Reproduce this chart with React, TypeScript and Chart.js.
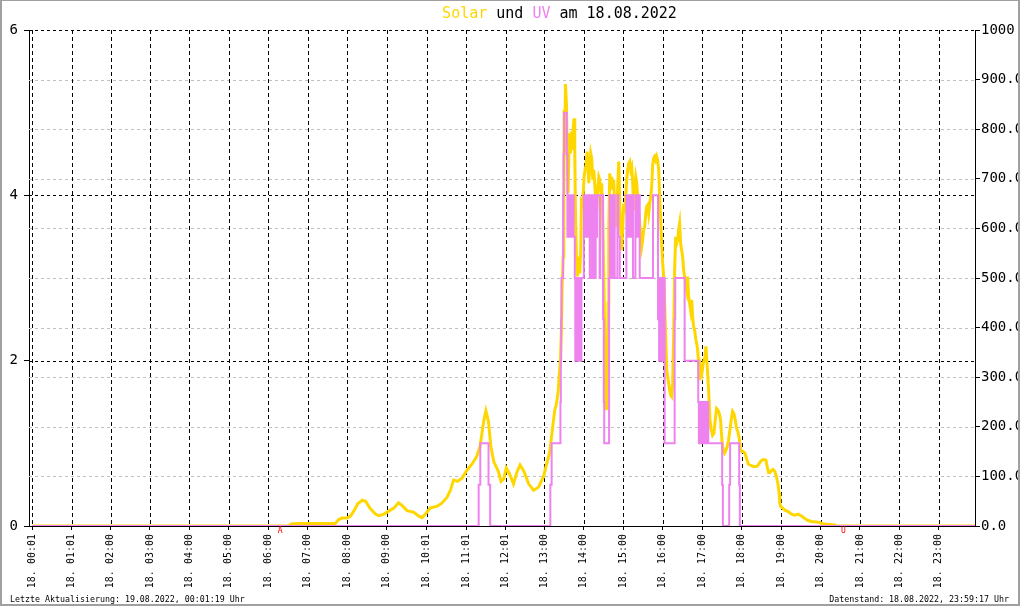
import React, { useEffect, useRef } from "react";
import { Chart, registerables } from "chart.js";

Chart.register(...registerables);

// ---- Axis ticks ----
const xTickMinutes = [1, 61, 120, 180, 240, 300, 360, 420, 480, 540, 601, 661, 721, 780, 840, 900, 960, 1020, 1080, 1140, 1200, 1260, 1320, 1380];
const xTickLabels = [
  "18. 00:01", "18. 01:01", "18. 02:00", "18. 03:00", "18. 04:00", "18. 05:00",
  "18. 06:00", "18. 07:00", "18. 08:00", "18. 09:00", "18. 10:01", "18. 11:01",
  "18. 12:01", "18. 13:00", "18. 14:00", "18. 15:00", "18. 16:00", "18. 17:00",
  "18. 18:00", "18. 19:00", "18. 20:00", "18. 21:00", "18. 22:00", "18. 23:00",
];
const uvAxisTicks = [0, 2, 4, 6];
const solarAxisTicks = [0, 100, 200, 300, 400, 500, 600, 700, 800, 900, 1000];

// ---- Solar (W/m²), minutes since midnight ----
const solarMinutes = [
  1, 391, 395, 404, 462, 467, 472, 480, 485, 490, 496, 503, 508, 515, 523, 528, 536, 543, 551, 558,
  563, 571, 581, 589, 594, 599, 606, 617, 624, 632, 637, 642, 648, 655, 662, 670, 677, 682, 687.5, 691,
  695, 698.5, 703, 710, 714, 718, 722, 727, 733, 738, 743, 749, 756, 763.5, 771, 778.7, 783.7, 785.7, 788.2, 790.8,
  793.3, 795.8, 798.4, 800.9, 802.4, 804.4, 806, 807, 808.5, 809.5, 810, 811, 812, 813.6, 814.6, 816.1, 817.6, 818.6, 819.6, 821.1,
  822.7, 823.7, 825.2, 826.2, 827.2, 828.7, 830.3, 832.3, 833.8, 835.3, 836.3, 837.9, 839.4, 840.4, 841.9, 843.4, 845, 846.5, 847.5, 849,
  850.5, 852, 853.6, 855.1, 856.6, 858.1, 859.6, 861.2, 862.7, 864.2, 865.7, 867.2, 868.7, 870.3, 871.8, 873.3, 874.8, 875.8, 876.9, 877.9,
  879.4, 880.9, 882.4, 883.9, 885.5, 887, 888.5, 890, 891.5, 893.1, 894.6, 896.1, 897.6, 899.1, 900.7, 902.2, 903.7, 905.2, 906.7, 908.2,
  909.8, 911.3, 912.8, 914.3, 915.8, 917.4, 918.9, 920.4, 921.9, 923.4, 925, 926.5, 928, 929.5, 931, 932.6, 934.1, 935.6, 937.1, 938.6,
  940.2, 941.7, 943.2, 944.7, 946.2, 947.7, 949.3, 950.8, 952.3, 953.8, 955.3, 956.9, 958.4, 959.9, 961.4, 962.9, 964.5, 966, 967.5, 969,
  970.5, 972.1, 973.6, 975.1, 976.6, 978.1, 979.6, 981.2, 982.7, 984.2, 985.7, 987.2, 988.8, 990.3, 991.8, 993.3, 994.8, 996.4, 997.9, 999.4,
  1000.9, 1002.4, 1004, 1005.5, 1007, 1008.5, 1010.5, 1012.5, 1014.1, 1015.6, 1017.6, 1019.6, 1021.7, 1024.2, 1025.7, 1027.7, 1029.8, 1031.8, 1033.8, 1035.8,
  1037.9, 1039.9, 1041.9, 1043.9, 1046, 1048, 1050, 1052, 1054.1, 1056.1, 1058.1, 1060.1, 1062.2, 1064.2, 1066.2, 1068.2, 1070.3, 1072.3, 1074.3, 1076.3,
  1078.4, 1080.4, 1082.4, 1085, 1087.5, 1090, 1092.6, 1097.6, 1102.7, 1105.2, 1107.7, 1110.3, 1112.8, 1116.9, 1118.9, 1120.9, 1122.9, 1125.5, 1128, 1130.5,
  1133.1, 1135.1, 1137.1, 1138.1, 1139.1, 1142.2, 1145.7, 1150.8, 1155.9, 1160.9, 1166, 1171, 1176.1, 1181.2, 1186.2, 1193.8, 1198.9, 1204, 1214.1, 1221.7,
  1224.2, 1435,
];
const solarValues = [
  0, 0, 4, 5, 5, 13, 16, 16, 20, 30, 45, 52, 50, 35, 24, 21, 24, 30, 36, 47,
  42, 31, 28, 20, 17, 24, 36, 40, 46, 58, 72, 93, 90, 97, 112, 125, 140, 160, 210, 232,
  210, 160, 130, 110, 90, 95, 117, 105, 85, 108, 123, 110, 85, 72, 78, 100, 127, 136, 150, 180,
  207, 234, 247, 271, 301, 335, 402, 483, 543, 590, 839, 751, 891, 849, 758, 671, 775, 792, 751, 795,
  758, 802, 822, 755, 637, 543, 503, 543, 509, 556, 654, 650, 677, 704, 718, 728, 755, 718, 691, 724,
  751, 741, 698, 718, 688, 657, 630, 681, 704, 698, 677, 691, 617, 516, 382, 247, 234, 281, 449, 597,
  711, 684, 704, 677, 698, 637, 603, 637, 684, 735, 650, 597, 556, 603, 650, 630, 664, 698, 718, 731,
  735, 718, 724, 691, 637, 684, 704, 691, 664, 637, 610, 583, 563, 577, 597, 603, 630, 644, 647, 630,
  650, 664, 684, 728, 741, 745, 738, 745, 738, 718, 664, 617, 570, 530, 503, 449, 382, 315, 301, 288,
  274, 264, 261, 288, 382, 516, 583, 570, 577, 597, 610, 570, 556, 543, 516, 503, 489, 476, 503, 462,
  449, 435, 456, 422, 402, 395, 375, 362, 338, 294, 321, 308, 328, 341, 362, 321, 274, 214, 194, 183,
  187, 214, 237, 234, 227, 214, 173, 153, 147, 153, 160, 173, 194, 214, 231, 227, 214, 197, 190, 177,
  153, 150, 150, 147, 136, 125, 123, 120, 120, 123, 128, 132, 134, 133, 120, 108, 108, 112, 114, 110,
  99, 86, 66, 46, 40, 36, 32, 29, 24, 22, 24, 20, 15, 11, 9, 8, 7, 4, 3, 2,
  0, 0,
];

// ---- UV index, change points (minutes since midnight) ----
const uvMinutes = [
  1, 680, 682.5, 695, 697.5, 789, 791, 804.4, 805, 805.5, 806, 808.5, 809.2, 810, 814, 815, 816, 817, 818, 819,
  820, 821, 822, 824.5, 826.2, 827, 828, 829, 830, 831, 832, 833, 834, 835, 836.3, 840, 841, 842, 843, 844,
  845, 846, 847, 848, 849, 850.5, 851.5, 852.5, 853.6, 854.5, 855.5, 856.5, 857.1, 858, 859, 860, 864, 865, 869.3, 870.3,
  871, 878.4, 879.4, 880.5, 881.5, 882.5, 883.5, 884.5, 885.5, 887, 891, 892.5, 894.6, 904.7, 906, 907, 908.5, 909.5, 911, 912,
  914.8, 918.4, 919.5, 920.5, 922, 923, 925, 945.2, 952.8, 953.5, 954.5, 955.5, 956.5, 957.5, 958.5, 959.5, 960.5, 961.5, 962.9, 978.1,
  979, 993.3, 1014, 1015, 1016, 1017, 1018, 1019, 1020, 1021, 1022, 1023, 1024, 1025, 1026, 1027, 1028, 1029.2, 1050.4, 1051.5,
  1061.1, 1062.5, 1076.3, 1077.3, 1435,
];
const uvValues = [
  0, 0.5, 1, 0.5, 0, 0.5, 1, 1.5, 2, 2.5, 3, 4, 4.5, 5, 4.5, 3.5, 4, 3.5, 4, 3.5,
  4, 3.5, 4, 3.5, 3, 2, 3, 2, 3, 2, 3, 2, 3, 2, 3, 4, 3.5, 4, 3.5, 4,
  3.5, 4, 3.5, 4, 3, 4, 3.5, 4, 3, 4, 3.5, 4, 3, 4, 3.5, 4, 3, 4, 2.5, 1.5,
  1, 3, 4, 3, 4, 3, 4, 3, 4, 3, 4, 3.5, 3, 4, 3.5, 4, 3.5, 4, 3.5, 4,
  3, 4, 3.5, 4, 3.5, 4, 3, 4, 2.5, 3, 2, 3, 2, 3, 2, 3, 2, 3, 1, 2.5,
  3, 2, 1.5, 1, 1.5, 1, 1.5, 1, 1.5, 1, 1.5, 1, 1.5, 1, 1.5, 1, 1.5, 1, 0.5, 0,
  0.5, 1, 0.5, 0, 0,
];

// ---- Sunrise / sunset markers ----
const sunMarkerMinutes = [378, 1235];
const sunMarkerLabels = ["A", "U"];

// ---- Texts ----
const titleParts = ["Solar", " und ", "UV", " am 18.08.2022"];
const titleColors = ["#FFD700", "#000000", "#EE82EE", "#000000"];
const footerLeft = "Letzte Aktualisierung: 19.08.2022, 00:01:19 Uhr";
const footerRight = "Datenstand: 18.08.2022, 23:59:17 Uhr";

const MONO = "'DejaVu Sans Mono', monospace";

const gridPlugin = {
  id: "customGrid",
  beforeDatasetsDraw(chart: any) {
    const { ctx, chartArea: a, scales } = chart;
    ctx.save();
    ctx.lineWidth = 1;
    // gray dashed for solar axis
    ctx.strokeStyle = "#c0c0c0";
    ctx.setLineDash([3, 3]);
    for (const v of solarAxisTicks) {
      if (v === 0 || v === 1000) continue;
      const y = Math.round(scales.y2.getPixelForValue(v)) + 0.5;
      ctx.beginPath();
      ctx.moveTo(a.left, y);
      ctx.lineTo(a.right, y);
      ctx.stroke();
    }
    // vertical black dashed
    ctx.strokeStyle = "#000";
    ctx.setLineDash([4, 3]);
    for (const m of xTickMinutes) {
      const x = Math.round(scales.x.getPixelForValue(m)) + 0.5;
      ctx.beginPath();
      ctx.moveTo(x, a.top);
      ctx.lineTo(x, a.bottom);
      ctx.stroke();
    }
    // horizontal black dotted for UV axis
    ctx.setLineDash([3, 3]);
    for (const v of uvAxisTicks) {
      if (v === 0) continue;
      const y = Math.round(scales.y.getPixelForValue(v)) + 0.5;
      ctx.beginPath();
      ctx.moveTo(a.left, y);
      ctx.lineTo(a.right, y);
      ctx.stroke();
    }
    ctx.restore();
  },
};

const decorPlugin = {
  id: "decor",
  afterDraw(chart: any) {
    const { ctx, scales, width, height } = chart;
    ctx.save();
    // title
    ctx.font = `15px ${MONO}`;
    ctx.textBaseline = "alphabetic";
    ctx.textAlign = "left";
    const full = titleParts.join("");
    const w = ctx.measureText(full).width;
    let x = 559.5 - w / 2;
    titleParts.forEach((p, i) => {
      ctx.fillStyle = titleColors[i];
      ctx.fillText(p, x, 18);
      x += ctx.measureText(p).width;
    });
    // footers
    ctx.font = `8.3px ${MONO}`;
    ctx.fillStyle = "#000";
    ctx.textAlign = "left";
    ctx.fillText(footerLeft, 10, 602);
    ctx.textAlign = "right";
    ctx.fillText(footerRight, 1009, 602);
    // sunrise / sunset markers
    ctx.font = `8px ${MONO}`;
    ctx.fillStyle = "#ff0000";
    ctx.textAlign = "center";
    ctx.textBaseline = "top";
    sunMarkerMinutes.forEach((m, i) => {
      ctx.fillText(sunMarkerLabels[i], scales.x.getPixelForValue(m), 527);
    });
    // frame
    ctx.fillStyle = "#a0a0a0";
    ctx.fillRect(0, 0, width, 1);
    ctx.fillRect(0, 0, 2, height);
    ctx.fillRect(width - 2, 0, 2, height);
    ctx.fillRect(0, height - 2, width, 2);
    ctx.restore();
  },
};

export default function App() {
  const ref = useRef<HTMLCanvasElement>(null);
  useEffect(() => {
    const canvas = ref.current!;
    const chart = new Chart(canvas, {
      type: "line",
      data: {
        datasets: [
          {
            label: "UV",
            data: uvMinutes.map((m, i) => ({ x: m, y: uvValues[i] })),
            yAxisID: "y",
            borderColor: "#EE82EE",
            borderWidth: 2,
            pointRadius: 0,
            stepped: "before",
            fill: false,
          },
          {
            label: "Solar",
            data: solarMinutes.map((m, i) => ({ x: m, y: solarValues[i] })),
            yAxisID: "y2",
            borderColor: "#FFD700",
            borderWidth: 3,
            pointRadius: 0,
            tension: 0,
            fill: false,
          },
        ],
      },
      options: {
        animation: false,
        responsive: false,
        devicePixelRatio: 1,
        layout: { padding: { top: 30, left: 0, right: 0, bottom: 0 }, autoPadding: false },
        plugins: { legend: { display: false }, tooltip: { enabled: false }, title: { display: false } },
        scales: {
          x: {
            type: "linear",
            position: "bottom",
            min: -4,
            max: 1435,
            afterBuildTicks: (s: any) => {
              s.ticks = xTickMinutes.map((v) => ({ value: v }));
            },
            afterFit: (s: any) => {
              s.height = 80;
              s.paddingLeft = 0;
              s.paddingRight = 0;
            },
            ticks: {
              autoSkip: false,
              minRotation: 90,
              maxRotation: 90,
              padding: 4,
              color: "#000",
              font: { family: MONO, size: 10 },
              callback: (_v: any, i: number) => xTickLabels[i],
            },
            grid: { drawOnChartArea: false, color: "#000", tickLength: 4 },
            border: { color: "#000", width: 1 },
          },
          y: {
            type: "linear",
            position: "left",
            min: 0,
            max: 6,
            afterBuildTicks: (s: any) => {
              s.ticks = uvAxisTicks.map((v) => ({ value: v }));
            },
            afterFit: (s: any) => {
              s.width = 29;
            },
            ticks: {
              padding: 6,
              color: "#000",
              font: { family: MONO, size: 14 },
              callback: (v: any) => String(v),
            },
            grid: { drawOnChartArea: false, color: "#000", tickLength: 5 },
            border: { color: "#000", width: 1 },
          },
          y2: {
            type: "linear",
            position: "right",
            min: 0,
            max: 1000,
            afterBuildTicks: (s: any) => {
              s.ticks = solarAxisTicks.map((v) => ({ value: v }));
            },
            afterFit: (s: any) => {
              s.width = 45;
            },
            ticks: {
              padding: 1,
              color: "#000",
              font: { family: MONO, size: 14 },
              callback: (v: any) => Number(v).toFixed(1),
            },
            grid: { drawOnChartArea: false, color: "#000", tickLength: 5 },
            border: { color: "#000", width: 1 },
          },
        },
      },
      plugins: [gridPlugin, decorPlugin],
    } as any);
    return () => chart.destroy();
  }, []);
  return (
    <div style={{ position: "absolute", left: 0, top: 0, width: 1020, height: 606, background: "#fff" }}>
      <canvas ref={ref} width={1020} height={606} style={{ display: "block" }} />
    </div>
  );
}
